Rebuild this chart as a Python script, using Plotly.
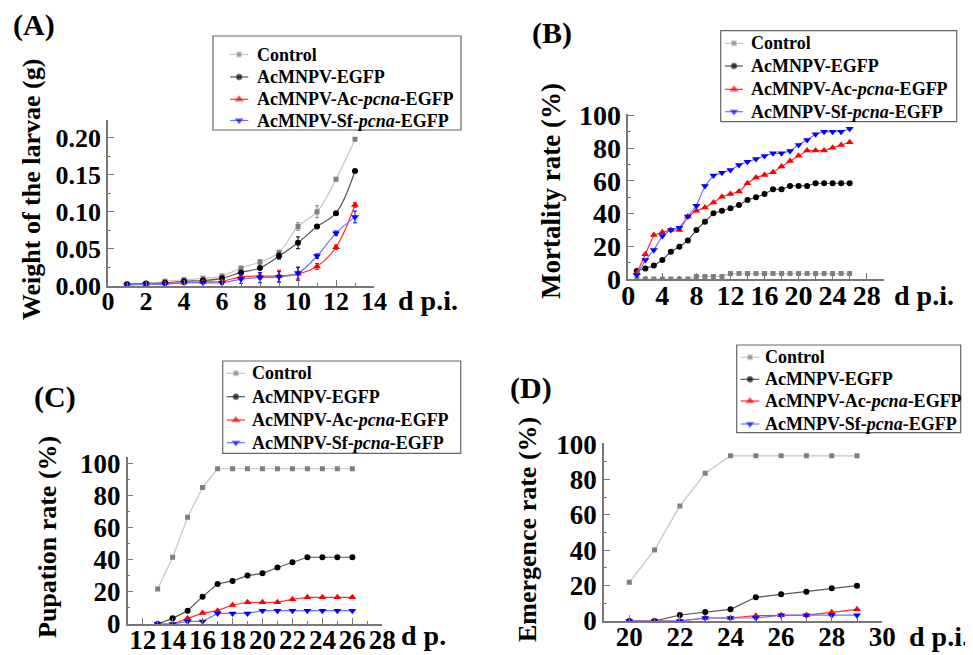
import plotly.graph_objects as go

# ---------------- DATA ----------------
series_names = ["Control", "AcMNPV-EGFP", "AcMNPV-Ac-<i>pcna</i>-EGFP", "AcMNPV-Sf-<i>pcna</i>-EGFP"]

# (A) weight of larvae (g)
a_days = [1, 2, 3, 4, 5, 6, 7, 8, 9, 10, 11, 12, 13]
a_control = [0.002, 0.003, 0.006, 0.008, 0.010, 0.013, 0.024, 0.032, 0.045, 0.080, 0.100, 0.144, 0.198]
a_egfp = [0.002, 0.003, 0.004, 0.006, 0.007, 0.010, 0.018, 0.024, 0.040, 0.058, 0.080, 0.098, 0.155]
a_ac = [0.001, 0.002, 0.003, 0.004, 0.005, 0.006, 0.012, 0.013, 0.013, 0.016, 0.026, 0.052, 0.109]
a_sf = [0.001, 0.002, 0.002, 0.004, 0.004, 0.004, 0.009, 0.011, 0.012, 0.017, 0.040, 0.071, 0.093]
a_control_err = [0.001, 0.001, 0.001, 0.001, 0.001, 0.002, 0.002, 0.003, 0.003, 0.005, 0.008, 0.002, 0.002]
a_egfp_err = [0.001, 0.001, 0.001, 0.001, 0.001, 0.001, 0.002, 0.002, 0.004, 0.008, 0.002, 0.002, 0.002]
a_ac_err = [0.001, 0.001, 0.001, 0.001, 0.001, 0.001, 0.003, 0.004, 0.008, 0.009, 0.004, 0.003, 0.003]
a_sf_err = [0.001, 0.001, 0.001, 0.001, 0.001, 0.002, 0.006, 0.007, 0.007, 0.008, 0.003, 0.003, 0.008]

# (B) mortality rate (%)
b_days = list(range(1, 27))
b_control = [0, 0, 0, 0, 0, 0, 0, 1.6, 1.6, 1.6, 1.6, 3.3, 3.3, 3.3, 3.3, 3.3, 3.3, 3.3, 3.3, 3.3, 3.3, 3.3, 3.3, 3.3, 3.3, 3.3]
b_egfp = [4.9, 6.5, 8.2, 11.6, 16.7, 19.8, 23.5, 30.0, 35.1, 40.2, 41.8, 43.3, 45.3, 48.4, 50.0, 52.0, 54.9, 54.9, 57.0, 57.0, 57.0, 58.6, 58.6, 58.6, 58.6, 58.6]
b_ac = [3.5, 15.1, 26.9, 28.6, 30.0, 30.0, 38.2, 41.8, 43.7, 46.9, 50.4, 52.0, 53.5, 58.6, 62.2, 63.7, 65.3, 68.8, 72.2, 75.5, 78.6, 78.6, 78.6, 80.4, 82.0, 83.7]
b_sf = [2.4, 11.6, 17.8, 26.3, 30.0, 31.4, 38.2, 44.9, 57.0, 63.3, 65.1, 66.7, 69.8, 71.8, 73.5, 75.3, 76.9, 76.9, 78.4, 82.0, 85.1, 88.6, 90.2, 90.2, 90.2, 92.0]

# (C) pupation rate (%)
c_days = list(range(13, 27))
c_control = [21.8, 41.5, 66.4, 84.9, 96.5, 96.5, 96.5, 96.5, 96.5, 96.5, 96.5, 96.5, 96.5, 96.5]
c_egfp = [0, 3.5, 8.3, 17.0, 24.9, 26.8, 30.1, 31.5, 35.1, 38.4, 41.5, 41.5, 41.5, 41.5]
c_ac = [0, 0, 3.5, 6.8, 8.3, 11.8, 13.5, 13.5, 13.5, 15.4, 16.6, 16.6, 16.6, 16.6]
c_sf = [0, 0, 1.6, 1.6, 6.6, 6.6, 6.6, 8.3, 8.3, 8.3, 8.3, 8.3, 8.3, 8.3]

# (D) emergence rate (%)
d_days = list(range(20, 30))
d_control = [21.9, 40.2, 65.1, 83.6, 93.4, 93.4, 93.4, 93.4, 93.4, 93.4]
d_egfp = [0, 0, 3.4, 5.1, 6.6, 13.4, 15.1, 16.6, 18.5, 20.0]
d_ac = [0, 0, 0, 1.7, 1.7, 3.0, 3.3, 3.3, 4.9, 6.6]
d_sf = [0, 0, 0, 1.7, 1.7, 1.7, 3.3, 3.3, 3.3, 3.3]

# ---------------- STYLE ----------------
FONT = "Liberation Serif, Times New Roman, serif"
OFF = 8                      # page body margin
W, H = 973 - OFF, 655 - OFF  # figure size so it fits the window
def px(x):
    return (x - OFF) / W
def py(y):
    return 1 - (y - OFF) / H

marker_colors = ["#808080", "#000000", "#ff0000", "#0000ff"]
line_colors = ["#c4c4c4", "#555555", "#ff3030", "#7070ff"]
symbols = ["square", "circle", "triangle-up", "triangle-down"]
msizes = [5, 6, 7, 7]

fig = go.Figure()

def add_panel(xs, ys_list, xa, ya, shape="linear", errs=None):
    for i, ys in enumerate(ys_list):
        kw = {}
        if errs is not None:
            kw["error_y"] = dict(type="data", array=errs[i], visible=True,
                                 color=marker_colors[i], thickness=1, width=2)
        fig.add_trace(go.Scatter(
            x=xs, y=ys, mode="lines+markers", name=series_names[i],
            xaxis=xa, yaxis=ya, showlegend=False,
            line=dict(color=line_colors[i], width=1.2, shape=shape, smoothing=1.0),
            marker=dict(symbol=symbols[i], size=msizes[i], color=marker_colors[i]),
            **kw))

add_panel(a_days, [a_control, a_egfp, a_ac, a_sf], "x", "y", shape="spline",
          errs=[a_control_err, a_egfp_err, a_ac_err, a_sf_err])
add_panel(b_days, [b_control, b_egfp, b_ac, b_sf], "x2", "y2")
add_panel(c_days, [c_control, c_egfp, c_ac, c_sf], "x3", "y3")
add_panel(d_days, [d_control, d_egfp, d_ac, d_sf], "x4", "y4")

def axcommon(fs):
    return dict(showline=True, linecolor="#777777", linewidth=1.5, showgrid=False,
                zeroline=False, ticks="inside", ticklen=6, tickcolor="#777777",
                tickwidth=1.2, automargin=False,
                tickfont=dict(family=FONT, size=fs, color="black", weight="bold"))

def xaxis(dom, rng, tickvals, anchor, fs, minor_dtick=None, standoff=-9):
    d = dict(axcommon(fs), domain=dom, range=rng, tickvals=tickvals, anchor=anchor,
             ticklabelstandoff=standoff)
    if minor_dtick:
        d["minor"] = dict(ticks="inside", ticklen=3, dtick=minor_dtick, tickcolor="#777777")
    return d

def yaxis(dom, rng, tickvals, anchor, fs, fmt=None, minor_dtick=None):
    d = dict(axcommon(fs), domain=dom, range=rng, tickvals=tickvals, anchor=anchor,
             ticklabelstandoff=0)
    if fmt:
        d["tickformat"] = fmt
    if minor_dtick:
        d["minor"] = dict(ticks="inside", ticklen=3, dtick=minor_dtick, tickcolor="#777777")
    return d

a_xticks = [0, 2, 4, 6, 8, 10, 12, 14]
a_yticks = [0, 0.05, 0.10, 0.15, 0.20]
b_xticks = [0, 4, 8, 12, 16, 20, 24, 28]
pct_ticks = [0, 20, 40, 60, 80, 100]
c_xticks = [12, 14, 16, 18, 20, 22, 24, 26, 28]
d_xticks = [20, 22, 24, 26, 28, 30]

fig.update_layout(
    width=W, height=H, template="none",
    margin=dict(l=0, r=0, t=0, b=0),
    paper_bgcolor="white", plot_bgcolor="rgba(0,0,0,0)",
    showlegend=False,
    xaxis=xaxis([px(108), px(374)], [0, 14], a_xticks, "y", 26, minor_dtick=1),
    yaxis=yaxis([py(285.7), py(120)], [0, 0.224], a_yticks, "x", 26, fmt=".2f", minor_dtick=0.025),
    xaxis2=xaxis([px(628.3), px(883.7)], [0, 30], b_xticks, "y2", 28, minor_dtick=2),
    yaxis2=yaxis([py(279), py(114)], [0, 101], pct_ticks, "x2", 28, minor_dtick=10),
    xaxis3=xaxis([px(127.7), px(382.3)], [11, 28], c_xticks, "y3", 27, minor_dtick=1),
    yaxis3=yaxis([py(624), py(456.7)], [0, 104], pct_ticks, "x3", 27, minor_dtick=10),
    xaxis4=xaxis([px(604), px(882.3)], [19, 30], d_xticks, "y4", 27, minor_dtick=1),
    yaxis4=yaxis([py(621), py(443.3)], [0, 100.5], pct_ticks, "x4", 27, minor_dtick=10),
    # overlay in page-pixel coordinates for legends and labels
    xaxis5=dict(domain=[0, 1], range=[OFF, 973], visible=False, anchor="y5", fixedrange=True),
    yaxis5=dict(domain=[0, 1], range=[655, OFF], visible=False, anchor="x5", fixedrange=True),
)

def ann(text, x, y, size=26, angle=0, xanchor="center", yanchor="middle"):
    fig.add_annotation(text=text, x=x, y=y, xref="x5", yref="y5",
                       showarrow=False, textangle=angle, xanchor=xanchor, yanchor=yanchor,
                       font=dict(family=FONT, size=size, color="black", weight="bold"))

# ---- manual legends (box, glyph line + marker, text) ----
legend_boxes = {
    "A": dict(box=(213, 36, 461, 130), rows=(54.5, 77, 99.3, 120.5), line=(230, 248.3), text=255),
    "B": dict(box=(720.7, 30.7, 956.7, 121.7), rows=(43.3, 66, 89.3, 111.7), line=(725, 743), text=749),
    "C": dict(box=(222.7, 361, 460.7, 453.3), rows=(373.3, 396.7, 420, 442.7), line=(226.7, 245), text=250),
    "D": dict(box=(736.7, 345, 960.7, 432.7), rows=(357.3, 379.3, 401, 424), line=(740.7, 759.3), text=763.3),
}
for key, L in legend_boxes.items():
    x0, y0, x1, y1 = L["box"]
    fig.add_shape(type="rect", xref="x5", yref="y5", x0=x0, y0=y0, x1=x1, y1=y1,
                  line=dict(color="#666666", width=1.2), fillcolor="rgba(0,0,0,0)", layer="above")
    lx0, lx1 = L["line"]
    for i, ry in enumerate(L["rows"]):
        fig.add_trace(go.Scatter(
            x=[lx0, (lx0 + lx1) / 2, lx1], y=[ry, ry, ry], xaxis="x5", yaxis="y5",
            mode="lines+markers", showlegend=False, cliponaxis=False, hoverinfo="skip",
            line=dict(color=line_colors[i], width=1.2),
            marker=dict(symbol=symbols[i], size=[0, msizes[i], 0], color=marker_colors[i])))
        ann(series_names[i], L["text"], ry, size=18, xanchor="left")

# panel labels
ann("(A)", 34, 25, size=30)
ann("(B)", 552, 33, size=30)
ann("(C)", 55, 397, size=30)
ann("(D)", 531, 388, size=30)
# y titles
ann("Weight of the larvae (g)", 31, 190, size=26, angle=-90)
ann("Mortality rate (%)", 551, 191, size=27, angle=-90)
ann("Pupation rate (%)", 47, 537, size=26, angle=-90)
ann("Emergence rate (%)", 527, 530, size=26, angle=-90)
# x unit labels
ann("d p.i.", 396, 300, size=28, xanchor="left")
ann("d p.i.", 892, 295, size=28, xanchor="left")
ann("d p.", 399, 635, size=28, xanchor="left")
ann("d p.i.", 907, 636, size=28, xanchor="left")

fig.write_html("out.html")
